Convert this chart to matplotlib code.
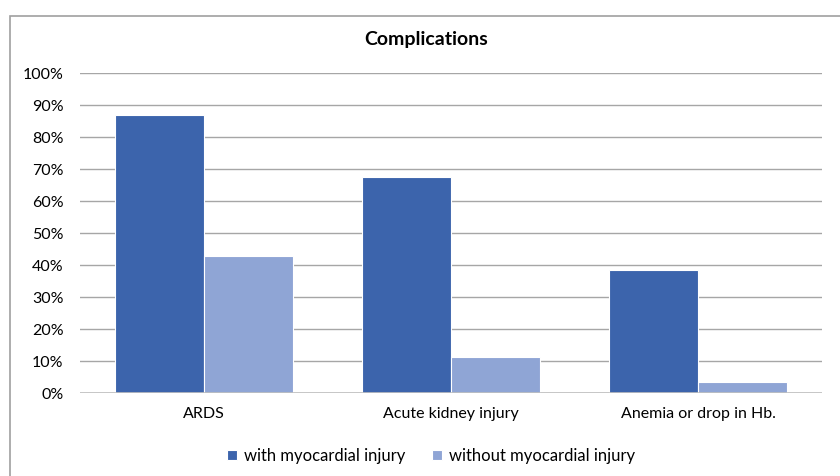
import matplotlib
matplotlib.use("Agg")
from matplotlib import pyplot as plt
from matplotlib.patches import Rectangle
import numpy as np

categories = ["ARDS", "Acute kidney injury", "Anemia or drop in Hb."]
with_injury = [87, 67.5, 38.5]
without_injury = [42.8, 11.5, 3.4]
series_names = ["with myocardial injury", "without myocardial injury"]
yticks = [0, 10, 20, 30, 40, 50, 60, 70, 80, 90, 100]

plt.rcParams['font.family'] = ['Lato', 'DejaVu Sans']

fig = plt.figure(figsize=(8.4, 4.76), dpi=100)
ax = fig.add_axes([80/840, 1-393.3/476, 742/840, 320/476])

# chart frame (cut off at right and bottom)
fig.patches.append(Rectangle((10/840, -0.1), 1.1, 1 - 16/476 + 0.1,
                             transform=fig.transFigure, fill=False,
                             edgecolor='#a0a0a0', linewidth=1.2))

x = np.arange(len(categories))
w = 0.36
ax.bar(x - w/2, with_injury, w, color='#3c64ac', edgecolor='white',
       linewidth=0.8, label=series_names[0], zorder=3)
ax.bar(x + w/2, without_injury, w, color='#8fa5d5', edgecolor='white',
       linewidth=0.8, label=series_names[1], zorder=3)

ax.set_xlim(-0.5, len(categories) - 0.5)
ax.set_ylim(0, 100)
ax.set_yticks(yticks)
ax.set_yticklabels([f"{t}%" for t in yticks])
ax.set_xticks(x)
ax.set_xticklabels(categories)
ax.yaxis.grid(True, color='#a6a6a6', linewidth=1.0, zorder=0)
for s in ax.spines.values():
    s.set_visible(False)
ax.axhline(0, color='#c0c0c0', linewidth=1.2, zorder=4)
ax.tick_params(length=0, labelsize=11.5, colors='black')
ax.tick_params(axis='y', pad=12)
ax.tick_params(axis='x', pad=10)

fig.text(426/840, 1-39/476, "Complications", ha='center', va='center',
         fontsize=14, fontweight='bold')

fig.legend(loc='center', bbox_to_anchor=(431/840, 1-456/476), ncol=2,
           frameon=False, fontsize=12, handlelength=0.6, handleheight=0.6,
           handletextpad=0.4, columnspacing=1.6)

fig.savefig("out.png", dpi=100)
